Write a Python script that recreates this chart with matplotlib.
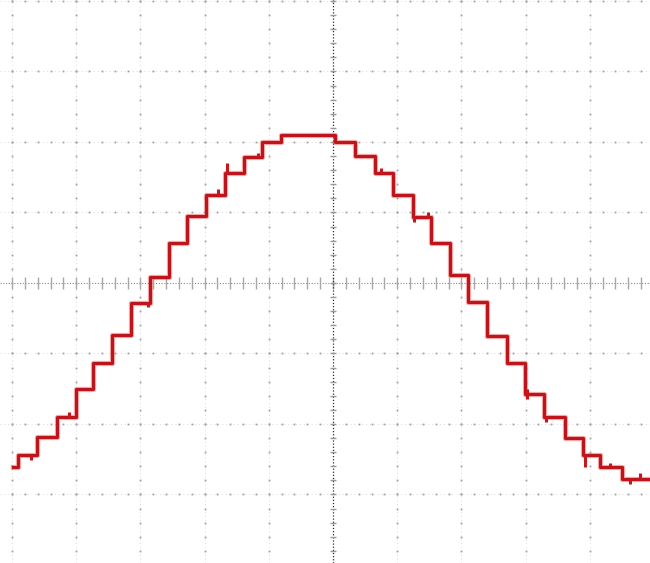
import numpy as np
from matplotlib import pyplot as plt

# step edges (divisions) and the level held after each edge (divisions)
edges = [-4.98, -4.91, -4.61, -4.30, -4.00, -3.74, -3.44, -3.15, -2.85, -2.55,
	-2.27, -1.98, -1.68, -1.39, -1.11, -0.81, 0.03, 0.34, 0.65, 0.93,
	1.25, 1.53, 1.82, 2.10, 2.40, 2.71, 2.99, 3.29, 3.61, 3.89,
	4.16, 4.50, 4.94]
levels = [-2.61, -2.44, -2.18, -1.90, -1.50, -1.13, -0.74, -0.28, 0.09, 0.57,
	0.95, 1.25, 1.56, 1.79, 2.00, 2.10, 2.00, 1.80, 1.56, 1.25,
	0.94, 0.57, 0.11, -0.27, -0.75, -1.13, -1.57, -1.90, -2.20, -2.44,
	-2.61, -2.78, -2.78]

# small glitches on the trace
glitch_x = [-4.70, -4.11, -2.88, -1.79, -1.65, -1.17, 0.75, 1.26, 1.48, 3.02, 3.32, 3.93, 4.31, 4.63, 4.78]
glitch_lo = [-2.51, -1.90, -0.34, 1.25, 1.56, 1.79, 1.56, 0.86, 0.94, -1.64, -1.97, -2.61, -2.61, -2.85, -2.78]
glitch_hi = [-2.44, -1.83, -0.28, 1.33, 1.70, 1.85, 1.63, 0.94, 1.01, -1.50, -1.90, -2.44, -2.55, -2.78, -2.70]

def draw_grid(ax):
	sub_x = np.arange(-5, 5.01, 0.2)
	sub_y = np.arange(-4, 4.01, 0.2)
	for gx in range(-5, 6):
		if gx == 0:
			continue
		ax.axvline(gx, color='#dadada', lw=0.7, ls=(0, (1, 3)), zorder=1)
		ax.plot([gx] * len(sub_y), sub_y, ls='none', marker='s', ms=1.3, color='#a2a2a2', mec='none', zorder=1)
	for gy in range(-4, 5):
		if gy == 0:
			continue
		ax.axhline(gy, color='#dadada', lw=0.7, ls=(0, (1, 3)), zorder=1)
		ax.plot(sub_x, [gy] * len(sub_x), ls='none', marker='s', ms=1.3, color='#a2a2a2', mec='none', zorder=1)
	# centre axes with tick marks
	ax.axhline(0, color='#8a8a8a', lw=0.8, ls=(0, (1, 1.5)), zorder=1)
	ax.plot(sub_x, np.zeros(len(sub_x)), ls='none', marker='|', ms=9, mew=1.0, color='#a8a8a8', zorder=1)
	ax.axvline(0, color='#2a2a2a', lw=0.9, ls=(0, (1, 1.5)), zorder=1)
	ax.plot(np.zeros(len(sub_y)), sub_y, ls='none', marker='_', ms=5, mew=1.0, color='#9a9a9a', zorder=1)

def main():
	fig = plt.figure(figsize=(6.5, 5.63), dpi=100)
	ax = fig.add_axes([0, 0, 1, 1])
	ax.set_xlim(-5.187, 4.938)
	ax.set_ylim(-3.972, 4.014)
	ax.axis('off')
	draw_grid(ax)
	ax.step(edges, levels, where='post', color='#e82828', lw=3.8, alpha=0.4, zorder=3)
	ax.step(edges, levels, where='post', color='#bc161c', lw=2.2, zorder=4)
	ax.vlines(glitch_x, glitch_lo, glitch_hi, color='#c8161c', lw=2.2, zorder=4)
	fig.savefig('out.png', dpi=100, facecolor='white')

if __name__ == "__main__":
	main()
